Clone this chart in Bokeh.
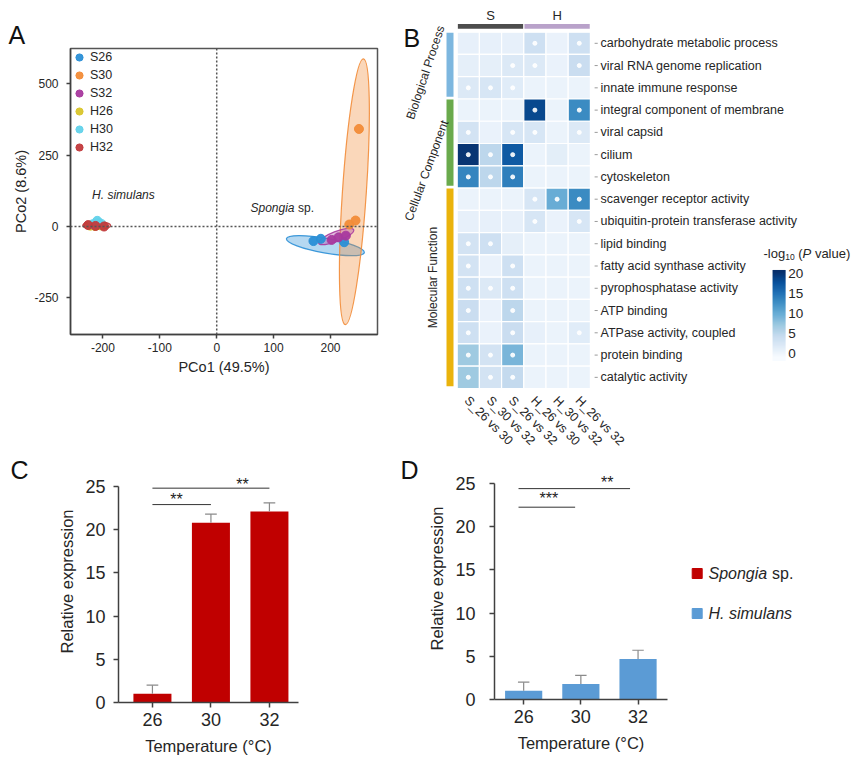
import numpy as np
from bokeh.plotting import figure
from bokeh.models import (Range1d, FixedTicker, Legend, LegendItem, Span,
                          ColumnDataSource, LinearColorMapper)
from bokeh.layouts import row, column
from bokeh.embed import file_html
from bokeh.resources import INLINE
from bokeh.core.properties import value
from bokeh.transform import transform
from bokeh.palettes import Blues256

FONT = "Liberation Sans"
TXT = "#262626"

# ---------------- Panel A data (PCoA) ----------------
pco_groups = ["S26", "S30", "S32", "H26", "H30", "H32"]
pco_colors = ["#2b8fd6", "#f28c38", "#a8399e", "#d9c52b", "#62d2ea", "#c23a3c"]
pco_group = ["S26", "S26", "S26", "S30", "S30", "S30", "S32", "S32", "S32",
             "H26", "H26", "H26", "H30", "H30", "H30", "H32", "H32", "H32"]
pco1 = [170, 183, 224, 250, 244, 233, 202, 214, 227,
        -222, -214, -204, -210, -218, -206, -226, -213, -198]
pco2 = [-51, -43, -55, 342, 21, 7, -47, -38, -32,
        3, 2, 4, 20, 8, 10, 5, 2, 0]
ell_group = ["S26", "S30", "S32", "H30", "H32"]
ell_x = [191, 242, 210, -208, -211]
ell_y = [-67, 122, -35, 12, 4]
ell_w = [139, 42, 66, 25, 49]
ell_h = [52, 934, 35, 30, 28]
ell_angle = [-0.177, -0.068, 0.366, 0.0, 0.0]
pA_xticks = [-200, -100, 0, 100, 200]
pA_yticks = [-250, 0, 250, 500]

# ---------------- Panel B data (GO heatmap) ----------------
go_terms = ["carbohydrate metabolic process", "viral RNA genome replication",
            "innate immune response", "integral component of membrane",
            "viral capsid", "cilium", "cytoskeleton", "scavenger receptor activity",
            "ubiquitin-protein transferase activity", "lipid binding",
            "fatty acid synthase activity", "pyrophosphatase activity",
            "ATP binding", "ATPase activity, coupled", "protein binding",
            "catalytic activity"]
comparisons = ["S_26 vs 30", "S_30 vs 32", "S_26 vs 32",
               "H_26 vs 30", "H_30 vs 32", "H_26 vs 32"]
logp = [
    [0.8, 0.8, 0.8, 3.5, 0.5, 3.5],
    [1.0, 1.0, 2.0, 2.0, 0.5, 4.0],
    [2.0, 2.5, 1.5, 0.3, 0.3, 0.3],
    [0.3, 0.3, 0.3, 18.5, 0.3, 13.0],
    [3.0, 0.5, 2.5, 2.5, 0.3, 2.0],
    [20.0, 5.0, 17.0, 0.3, 1.2, 0.3],
    [13.5, 5.0, 14.0, 0.3, 0.3, 0.3],
    [0.3, 0.3, 0.3, 2.5, 10.0, 13.0],
    [0.8, 0.8, 0.8, 2.5, 0.5, 2.5],
    [3.0, 3.5, 1.0, 0.3, 0.3, 0.3],
    [3.0, 0.5, 3.5, 0.3, 0.3, 0.3],
    [3.5, 2.0, 3.5, 0.3, 0.3, 0.3],
    [4.0, 0.5, 5.0, 0.3, 0.3, 0.3],
    [3.5, 0.5, 4.0, 0.8, 0.3, 1.5],
    [7.0, 3.0, 9.0, 0.3, 0.3, 0.3],
    [7.0, 3.0, 4.5, 0.3, 0.3, 0.3],
]
signif = [
    [0, 0, 0, 1, 0, 1],
    [0, 0, 1, 1, 0, 1],
    [1, 1, 1, 0, 0, 0],
    [0, 0, 0, 1, 0, 1],
    [1, 0, 1, 1, 0, 1],
    [1, 1, 1, 0, 0, 0],
    [1, 1, 1, 0, 0, 0],
    [0, 0, 0, 1, 1, 1],
    [0, 0, 0, 1, 0, 1],
    [1, 1, 0, 0, 0, 0],
    [1, 0, 1, 0, 0, 0],
    [1, 1, 1, 0, 0, 0],
    [1, 0, 1, 0, 0, 0],
    [1, 0, 1, 0, 0, 1],
    [1, 1, 1, 0, 0, 0],
    [1, 1, 1, 0, 0, 0],
]
species_groups = ["S", "H"]
species_cols = [(0, 2), (3, 5)]
species_colors = ["#4d4d4d", "#b9a2ca"]
go_categories = ["Biological Process", "Cellular Component", "Molecular Function"]
go_cat_rows = [(0, 2), (3, 6), (7, 15)]
go_cat_colors = ["#7db7df", "#6aaa4c", "#eab30c"]
cb_ticks = [0, 5, 10, 15, 20]

# ---------------- Panels C / D data ----------------
temps = ["26", "30", "32"]
spongia_expr = [1.0, 20.8, 22.1]
spongia_err = [1.0, 1.0, 1.0]
hsim_expr = [1.0, 1.8, 4.7]
hsim_err = [1.0, 1.0, 1.0]
c_cmp_x0 = [0, 0]
c_cmp_x1 = [1, 2]
c_cmp_y = [22.9, 24.8]
c_cmp_lab = ["**", "**"]
c_cmp_labx = [0.41, 1.54]
c_cmp_laby = [23.9, 25.7]
d_cmp_x0 = [-0.09, -0.09]
d_cmp_x1 = [0.9, 1.86]
d_cmp_y = [22.25, 24.4]
d_cmp_lab = ["***", "**"]
d_cmp_labx = [0.44, 1.46]
d_cmp_laby = [23.7, 25.5]
expr_ticks = [0, 5, 10, 15, 20, 25]
RED = "#c00000"
BLUE = "#5b9bd5"
bar_legend_names = ["Spongia", "H. simulans"]
bar_legend_colors = [RED, BLUE]


def style_axes(p, tick_size, label_size, tick_out=4):
    for ax in p.axis:
        ax.axis_line_color = "#404040"
        ax.axis_line_width = 1.5
        ax.major_tick_line_color = "#404040"
        ax.major_tick_line_width = 1.5
        ax.major_tick_out = tick_out
        ax.major_tick_in = 0
        ax.minor_tick_line_color = None
        ax.major_label_text_font = FONT
        ax.major_label_text_font_size = tick_size
        ax.major_label_text_color = TXT
        ax.axis_label_text_font = FONT
        ax.axis_label_text_font_size = label_size
        ax.axis_label_text_font_style = "normal"
        ax.axis_label_text_color = TXT
    p.xgrid.visible = False
    p.ygrid.visible = False


def pixel_fig(width, height):
    f = figure(width=width, height=height, x_range=Range1d(0, width),
               y_range=Range1d(height, 0), x_axis_location=None, y_axis_location=None,
               min_border=0, output_backend="svg", toolbar_location=None,
               outline_line_color=None, frame_align=False)
    f.xgrid.visible = False
    f.ygrid.visible = False
    return f


def letter_fig(letter, width, height, lx, ly):
    f = pixel_fig(width, height)
    f.text(x=[lx], y=[ly], text=[letter], text_font=value(FONT), text_font_size="25px",
           text_align="left", text_baseline="middle", text_color="#111111")
    return f


TOP_H = 455
BOT_H = 306

# ================= Panel A =================
pA = figure(width=400, height=TOP_H, x_range=Range1d(-257, 282.6),
            y_range=Range1d(-378.5, 624), output_backend="svg",
            toolbar_location=None, min_border_left=70, min_border_right=23,
            min_border_top=48, min_border_bottom=TOP_H - 334, frame_align=False)
style_axes(pA, "12px", "14.5px")
pA.outline_line_color = "#555555"
pA.outline_line_width = 1.5
pA.xaxis.ticker = FixedTicker(ticks=pA_xticks)
pA.yaxis.ticker = FixedTicker(ticks=pA_yticks)
pA.xaxis.major_label_overrides = {t: str(t) for t in pA_xticks}
pA.yaxis.major_label_overrides = {t: str(t) for t in pA_yticks}
pA.xaxis.axis_label = "PCo1 (49.5%)"
pA.yaxis.axis_label = "PCo2 (8.6%)"
pA.xaxis.major_label_standoff = 4
pA.xaxis.axis_label_standoff = 4
pA.yaxis.major_label_standoff = 8
pA.yaxis.axis_label_standoff = 2
pA.title.text = "A"
pA.title.align = "left"
pA.title.offset = -62
pA.title.standoff = 0
pA.title.text_font = FONT
pA.title.text_font_size = "25px"
pA.title.text_font_style = "normal"
pA.title.text_color = "#111111"

pA.add_layout(Span(location=0, dimension="height", line_dash="2 2",
                   line_color="#555555", line_width=1.5))
pA.add_layout(Span(location=0, dimension="width", line_dash="2 2",
                   line_color="#555555", line_width=1.5))

cmap = dict(zip(pco_groups, pco_colors))
ell_src = ColumnDataSource(dict(x=ell_x, y=ell_y, w=ell_w, h=ell_h, a=ell_angle,
                                c=[cmap[g] for g in ell_group]))
pA.ellipse(x="x", y="y", width="w", height="h", angle="a", source=ell_src,
           fill_color="c", fill_alpha=0.35, line_color="c", line_alpha=0.9,
           line_width=1.2)

legend_items = []
for g in pco_groups:
    xs = [x for x, gg in zip(pco1, pco_group) if gg == g]
    ys = [y for y, gg in zip(pco2, pco_group) if gg == g]
    r = pA.scatter(xs, ys, size=9, color=cmap[g], alpha=0.95)
    legend_items.append(LegendItem(label=g, renderers=[r]))
legA = Legend(items=legend_items, location="top_left", border_line_color=None,
              background_fill_alpha=0, margin=0, padding=6, spacing=0,
              glyph_height=18, glyph_width=18, label_height=18, label_standoff=2,
              label_text_font=FONT, label_text_font_size="12.5px",
              label_text_color=TXT)
pA.add_layout(legA)

pA.text(x=[-164], y=[109], text=["H. simulans"], text_font=value(FONT),
        text_font_size="12px", text_font_style="italic", text_align="center",
        text_baseline="middle", text_color=TXT)
pA.text(x=[136.7], y=[66], text=["Spongia"], text_font=value(FONT),
        text_font_size="12px", text_font_style="italic", text_align="right",
        text_baseline="middle", text_color=TXT)
pA.text(x=[143], y=[66], text=["sp."], text_font=value(FONT),
        text_font_size="12px", text_align="left",
        text_baseline="middle", text_color=TXT)

# ================= Panel B =================
pB = figure(width=458, height=TOP_H, x_range=Range1d(-3.054, 17.577),
            y_range=Range1d((TOP_H - 42.8) / 22.27, -1.922), x_axis_location=None,
            y_axis_location=None, min_border=0, output_backend="svg",
            toolbar_location=None, outline_line_color=None, frame_align=False)
pB.xgrid.visible = False
pB.ygrid.visible = False

mapper = LinearColorMapper(palette=list(reversed(Blues256)), low=-1.0, high=20.5)
hx, hy, hv, sx, sy = [], [], [], [], []
for j, rowv in enumerate(logp):
    for i, v in enumerate(rowv):
        hx.append(i)
        hy.append(j)
        hv.append(v)
        if signif[j][i]:
            sx.append(i)
            sy.append(j)
hsrc = ColumnDataSource(dict(x=hx, y=hy, v=hv))
pB.rect(x="x", y="y", width=1, height=1, source=hsrc,
        fill_color=transform("v", mapper), line_color="white", line_width=1.2)
pB.scatter(sx, sy, size=4, color="white", alpha=0.9)

nrow = len(go_terms)
pB.segment(x0=[5.69] * nrow, y0=list(range(nrow)), x1=[5.83] * nrow,
           y1=list(range(nrow)), line_color="#9a9a9a", line_width=1)
pB.text(x=[5.955] * nrow, y=list(range(nrow)), text=go_terms, text_font=value(FONT),
        text_font_size="12.5px", text_align="left", text_baseline="middle",
        text_color=TXT)
ncol = len(comparisons)
pB.text(x=[i - 0.08 for i in range(ncol)], y=[15.95] * ncol, text=comparisons,
        angle=-np.pi / 4, text_font=value(FONT), text_font_size="12.5px",
        text_align="left", text_baseline="middle", text_color=TXT)
for g, (a, b), c in zip(species_groups, species_cols, species_colors):
    pB.rect(x=[(a + b) / 2], y=[-0.76], width=b - a + 1 - 0.06, height=0.22,
            fill_color=c, line_color=None)
    pB.text(x=[(a + b) / 2], y=[-1.25], text=[g], text_font=value(FONT),
            text_font_size="13px", text_align="center", text_baseline="middle",
            text_color=TXT)
cat_text_x = [-1.93, -1.88, -1.57]
cat_text_y = [1.31, 5.71, 10.52]
cat_text_a = [1.25, 1.22, np.pi / 2]
for name, (a, b), c, tx, ty, ta in zip(go_categories, go_cat_rows, go_cat_colors,
                                        cat_text_x, cat_text_y, cat_text_a):
    pB.rect(x=[-0.824], y=[(a + b) / 2 - 0.04], width=0.315, height=b - a + 1 - 0.13,
            fill_color=c, line_color=None)
    pB.text(x=[tx], y=[ty], text=[name], angle=ta, text_font=value(FONT),
            text_font_size="12px", text_align="center", text_baseline="middle",
            text_color=TXT)
cb_v = np.linspace(-1.75, 20.75, 91)
cb_y = 13.929 - 0.1796 * cb_v
cbsrc = ColumnDataSource(dict(x=[14.0] * len(cb_v), y=cb_y, v=cb_v))
pB.rect(x="x", y="y", width=0.59, height=0.1796 * 0.27, source=cbsrc,
        fill_color=transform("v", mapper), line_color=None)
pB.text(x=[14.41] * len(cb_ticks), y=[13.929 - 0.1796 * t for t in cb_ticks],
        text=[str(t) for t in cb_ticks], text_font=value(FONT), text_font_size="13.5px",
        text_align="left", text_baseline="middle", text_color=TXT)
t_x0 = 13.297
pB.text(x=[t_x0], y=[9.44], text=["-log"], text_font=value(FONT), text_font_size="13px",
        text_align="left", text_baseline="middle", text_color=TXT)
pB.text(x=[t_x0 + 0.977], y=[9.58], text=["10"], text_font=value(FONT),
        text_font_size="8.5px", text_align="left", text_baseline="middle", text_color=TXT)
pB.text(x=[t_x0 + 1.565], y=[9.44], text=["("], text_font=value(FONT),
        text_font_size="13px", text_align="left", text_baseline="middle", text_color=TXT)
pB.text(x=[t_x0 + 1.761], y=[9.44], text=["P"], text_font=value(FONT),
        text_font_size="13px", text_font_style="italic", text_align="left",
        text_baseline="middle", text_color=TXT)
pB.text(x=[t_x0 + 2.315], y=[9.44], text=["value)"], text_font=value(FONT),
        text_font_size="13px", text_align="left", text_baseline="middle", text_color=TXT)
pB.text(x=[-2.92], y=[-0.216], text=["B"], text_font=value(FONT), text_font_size="25px",
        text_align="left", text_baseline="middle", text_color="#111111")


# ================= Panels C and D =================
def bar_panel(vals, errs, color, width, x_range, borders, cmp):
    left, right, top, bottom = borders
    p = figure(width=width, height=BOT_H, x_range=x_range, y_range=Range1d(0, 28),
               output_backend="svg", toolbar_location=None, min_border_left=left,
               min_border_right=right, min_border_top=top, min_border_bottom=bottom,
               outline_line_color=None, frame_align=False)
    style_axes(p, "18px", "16.5px", tick_out=5)
    p.yaxis.ticker = FixedTicker(ticks=expr_ticks)
    p.yaxis.bounds = (expr_ticks[0], expr_ticks[-1])
    idx = list(range(len(temps)))
    p.xaxis.ticker = FixedTicker(ticks=idx)
    p.xaxis.major_label_overrides = {i: t for i, t in zip(idx, temps)}
    p.xaxis.axis_label = "Temperature (°C)"
    p.yaxis.axis_label = "Relative expression"
    p.xaxis.major_label_standoff = 5
    p.xaxis.axis_label_standoff = 8
    p.yaxis.axis_label_standoff = 6
    p.vbar(x=idx, top=vals, width=0.65, fill_color=color, line_color=None)
    tops = [v + e for v, e in zip(vals, errs)]
    p.segment(x0=idx, y0=vals, x1=idx, y1=tops, line_color="#8a8a8a", line_width=1.2)
    p.segment(x0=[i - 0.1 for i in idx], y0=tops, x1=[i + 0.1 for i in idx], y1=tops,
              line_color="#8a8a8a", line_width=1.2)
    x0s, x1s, ys, labs, labx, laby = cmp
    p.segment(x0=x0s, y0=ys, x1=x1s, y1=ys, line_color="#333333", line_width=1)
    p.text(x=labx, y=[y - 0.45 for y in laby], text=labs, text_font=value(FONT),
           text_font_size="16px", text_align="center", text_baseline="middle",
           text_color="#222222")
    return p


pCL = letter_fig("C", 40, BOT_H, 10, 14)
pC = bar_panel(spongia_expr, spongia_err, RED, 360, Range1d(-0.58, 2.497),
               (78, 102, 5, BOT_H - 5 - 242),
               (c_cmp_x0, c_cmp_x1, c_cmp_y, c_cmp_lab, c_cmp_labx, c_cmp_laby))
pC.yaxis.major_label_standoff = 8

pDL = letter_fig("D", 25, BOT_H, 0, 14)
pD = bar_panel(hsim_expr, hsim_err, BLUE, 252, Range1d(-0.51, 2.515),
               (65, 10, 2, BOT_H - 2 - 242),
               (d_cmp_x0, d_cmp_x1, d_cmp_y, d_cmp_lab, d_cmp_labx, d_cmp_laby))
pD.yaxis.major_label_standoff = 14

# legend for the bar charts (pixel-coordinate panel)
pLeg = pixel_fig(858 - 40 - 360 - 25 - 252, BOT_H)
leg_y = [118, 158]
pLeg.scatter(x=[19.7, 19.7], y=leg_y, marker="square", size=10, color=bar_legend_colors)
pLeg.text(x=[31, 31], y=leg_y, text=bar_legend_names, text_font=value(FONT),
          text_font_size="16px", text_font_style="italic", text_align="left",
          text_baseline="middle", text_color=TXT)
pLeg.text(x=[94.5], y=[leg_y[0]], text=["sp."], text_font=value(FONT),
          text_font_size="16px", text_align="left", text_baseline="middle", text_color=TXT)

layout = column(row(pA, pB), row(pCL, pC, pDL, pD, pLeg))
open("out.html", "w").write(file_html(layout, INLINE))
